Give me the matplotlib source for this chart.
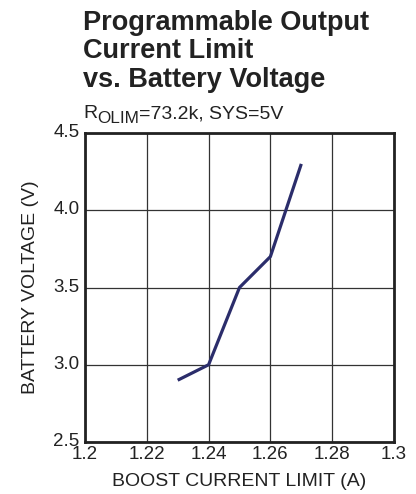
import matplotlib
matplotlib.use("Agg")
import matplotlib.pyplot as plt
import matplotlib.transforms as mtransforms

plt.rcParams['font.family'] = ['Liberation Sans', 'DejaVu Sans']

# data
current = [1.23, 1.24, 1.25, 1.26, 1.27]
voltage = [2.9, 3.0, 3.5, 3.7, 4.3]
xticks = [1.2, 1.22, 1.24, 1.26, 1.28, 1.3]
xtick_labels = ['1.2', '1.22', '1.24', '1.26', '1.28', '1.3']
yticks = [2.5, 3.0, 3.5, 4.0, 4.5]
ytick_labels = ['2.5', '3.0', '3.5', '4.0', '4.5']
title_lines = ['Programmable Output', 'Current Limit', 'vs. Battery Voltage']

W, H = 416, 494
fig = plt.figure(figsize=(W / 100, H / 100), dpi=100)
ax = fig.add_axes([85 / W, 1 - 442 / H, 309 / W, 309 / H])

ax.plot(current, voltage, color='#2b2d6b', lw=2.3, solid_capstyle='butt')
ax.set_xlim(1.2, 1.3)
ax.set_ylim(2.5, 4.5)
ax.set_xticks(xticks)
ax.set_xticklabels(xtick_labels)
ax.set_yticks(yticks)
ax.set_yticklabels(ytick_labels)
ax.tick_params(length=0, labelsize=13.5, colors='#222222')
ax.tick_params(axis='y', pad=4)
ax.tick_params(axis='x', pad=3)
up = mtransforms.ScaledTranslation(0, 2.5 / 100, fig.dpi_scale_trans)
for lab in ax.get_yticklabels():
    lab.set_transform(lab.get_transform() + up)
ax.grid(True, color='#333333', lw=0.9)
for s in ax.spines.values():
    s.set_linewidth(2)
    s.set_color('#222222')

ax.set_xlabel('BOOST CURRENT LIMIT (A)', fontsize=14, color='#222222', labelpad=7)
ax.set_ylabel('BATTERY VOLTAGE (V)', fontsize=14, color='#222222', labelpad=10)

for line, base in zip(title_lines, [30, 58, 87]):
    fig.text(83 / W, 1 - base / H, line, fontsize=19.5, fontweight='bold',
             color='#222222', ha='left', va='baseline')

# subtitle with a large subscript, laid out piece by piece
renderer = fig.canvas.get_renderer()
x = 83
for txt, size, base in [('R', 14, 118), ('OLIM', 12.3, 123), ('=73.2k, SYS=5V', 14, 118)]:
    t = fig.text(x / W, 1 - base / H, txt, fontsize=size, color='#222222',
                 ha='left', va='baseline')
    x += t.get_window_extent(renderer).width

fig.savefig('out.png', dpi=100)
